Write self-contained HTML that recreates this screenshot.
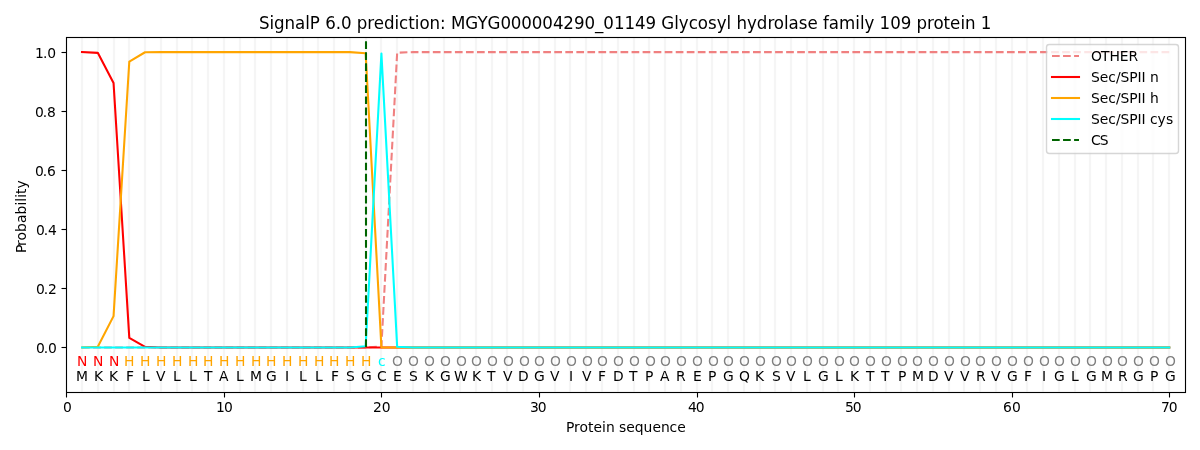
<!DOCTYPE html>
<html lang="en"><head><meta charset="utf-8"><title>SignalP 6.0 prediction</title>
<style>
html,body{margin:0;padding:0;background:#fff;}
body{width:1200px;height:450px;overflow:hidden;}
svg{display:block;}
text{font-family:"DejaVu Sans","Liberation Sans",sans-serif;font-size:13.889px;fill:#000;white-space:pre;}
.t{font-size:16.667px;}
.N{fill:#ff0000;}.H{fill:#ffa500;}.c{fill:#00ffff;}.O{fill:#808080;}
.g{stroke:#f5f5f5;stroke-width:2.2;fill:none;}
.l{stroke-width:2.083;fill:none;stroke-linejoin:round;}
.s{stroke:#000;stroke-width:1.111;fill:none;stroke-linecap:square;}
.k{stroke:#000;stroke-width:1.111;fill:none;}
</style></head><body>
<svg width="1200" height="450" viewBox="0 0 1200 450" role="img" aria-label="SignalP 6.0 prediction plot">
<rect width="1200" height="450" fill="#fff"/>
<defs><clipPath id="ax"><rect x="66.278" y="37.333" width="1118.722" height="354.389"/></clipPath></defs>
<g class="g" clip-path="url(#ax)">
<path d="M82 37.333V391.722M98 37.333V391.722M114 37.333V391.722M129 37.333V391.722M145 37.333V391.722M161 37.333V391.722M177 37.333V391.722M192 37.333V391.722M208 37.333V391.722M224 37.333V391.722M240 37.333V391.722M255 37.333V391.722M271 37.333V391.722M287 37.333V391.722M303 37.333V391.722M318 37.333V391.722M334 37.333V391.722M350 37.333V391.722M366 37.333V391.722M381 37.333V391.722M397 37.333V391.722M413 37.333V391.722M429 37.333V391.722M444 37.333V391.722M460 37.333V391.722M476 37.333V391.722M492 37.333V391.722M507 37.333V391.722M523 37.333V391.722M539 37.333V391.722M555 37.333V391.722M570 37.333V391.722M586 37.333V391.722M602 37.333V391.722M618 37.333V391.722M634 37.333V391.722M649 37.333V391.722M665 37.333V391.722M681 37.333V391.722M697 37.333V391.722M712 37.333V391.722M728 37.333V391.722M744 37.333V391.722M760 37.333V391.722M775 37.333V391.722M791 37.333V391.722M807 37.333V391.722M823 37.333V391.722M838 37.333V391.722M854 37.333V391.722M870 37.333V391.722M886 37.333V391.722M901 37.333V391.722M917 37.333V391.722M933 37.333V391.722M949 37.333V391.722M964 37.333V391.722M980 37.333V391.722M996 37.333V391.722M1012 37.333V391.722M1027 37.333V391.722M1043 37.333V391.722M1059 37.333V391.722M1075 37.333V391.722M1090 37.333V391.722M1106 37.333V391.722M1122 37.333V391.722M1138 37.333V391.722M1153 37.333V391.722M1169 37.333V391.722"/>
</g>
<g class="l" clip-path="url(#ax)">
<path d="M82.034 347.424L97.791 347.424L113.548 347.424L129.304 347.424L145.061 347.424L160.818 347.424L176.574 347.424L192.331 347.424L208.088 347.424L223.844 347.424L239.601 347.424L255.358 347.424L271.114 347.424L286.871 347.424L302.628 347.424L318.384 347.424L334.141 347.424L349.897 347.424L365.654 347.424L381.411 346.538L397.167 52.69L412.924 52.1L428.681 52.1L444.437 52.1L460.194 52.1L475.951 52.1L491.707 52.1L507.464 52.1L523.221 52.1L538.977 52.1L554.734 52.1L570.491 52.1L586.247 52.1L602.004 52.1L617.761 52.1L633.517 52.1L649.274 52.1L665.031 52.1L680.787 52.1L696.544 52.1L712.3 52.1L728.057 52.1L743.814 52.1L759.57 52.1L775.327 52.1L791.084 52.1L806.84 52.1L822.597 52.1L838.354 52.1L854.11 52.1L869.867 52.1L885.624 52.1L901.38 52.1L917.137 52.1L932.894 52.1L948.65 52.1L964.407 52.1L980.164 52.1L995.92 52.1L1011.677 52.1L1027.433 52.1L1043.19 52.1L1058.947 52.1L1074.703 52.1L1090.46 52.1L1106.217 52.1L1121.973 52.1L1137.73 52.1L1153.487 52.1L1169.243 52.1" stroke="#f08080" stroke-dasharray="7.708 3.333"/>
<path d="M82.034 52.1L97.791 52.838L113.548 82.961L129.304 337.826L145.061 346.833L160.818 347.424L176.574 347.424L192.331 347.424L208.088 347.424L223.844 347.424L239.601 347.424L255.358 347.424L271.114 347.424L286.871 347.424L302.628 347.424L318.384 347.424L334.141 347.424L349.897 347.424L365.654 347.424L381.411 347.424L397.167 347.424L412.924 347.424L428.681 347.424L444.437 347.424L460.194 347.424L475.951 347.424L491.707 347.424L507.464 347.424L523.221 347.424L538.977 347.424L554.734 347.424L570.491 347.424L586.247 347.424L602.004 347.424L617.761 347.424L633.517 347.424L649.274 347.424L665.031 347.424L680.787 347.424L696.544 347.424L712.3 347.424L728.057 347.424L743.814 347.424L759.57 347.424L775.327 347.424L791.084 347.424L806.84 347.424L822.597 347.424L838.354 347.424L854.11 347.424L869.867 347.424L885.624 347.424L901.38 347.424L917.137 347.424L932.894 347.424L948.65 347.424L964.407 347.424L980.164 347.424L995.92 347.424L1011.677 347.424L1027.433 347.424L1043.19 347.424L1058.947 347.424L1074.703 347.424L1090.46 347.424L1106.217 347.424L1121.973 347.424L1137.73 347.424L1153.487 347.424L1169.243 347.424" stroke="#ff0000" stroke-linecap="square"/>
<path d="M82.034 347.424L97.791 346.833L113.548 316.119L129.304 61.55L145.061 52.247L160.818 52.1L176.574 52.1L192.331 52.1L208.088 52.1L223.844 52.1L239.601 52.1L255.358 52.1L271.114 52.1L286.871 52.1L302.628 52.1L318.384 52.1L334.141 52.1L349.897 52.1L365.654 53.281L381.411 347.424L397.167 347.424L412.924 347.424L428.681 347.424L444.437 347.424L460.194 347.424L475.951 347.424L491.707 347.424L507.464 347.424L523.221 347.424L538.977 347.424L554.734 347.424L570.491 347.424L586.247 347.424L602.004 347.424L617.761 347.424L633.517 347.424L649.274 347.424L665.031 347.424L680.787 347.424L696.544 347.424L712.3 347.424L728.057 347.424L743.814 347.424L759.57 347.424L775.327 347.424L791.084 347.424L806.84 347.424L822.597 347.424L838.354 347.424L854.11 347.424L869.867 347.424L885.624 347.424L901.38 347.424L917.137 347.424L932.894 347.424L948.65 347.424L964.407 347.424L980.164 347.424L995.92 347.424L1011.677 347.424L1027.433 347.424L1043.19 347.424L1058.947 347.424L1074.703 347.424L1090.46 347.424L1106.217 347.424L1121.973 347.424L1137.73 347.424L1153.487 347.424L1169.243 347.424" stroke="#ffa500" stroke-linecap="square"/>
<path d="M82.034 347.424L97.791 347.424L113.548 347.424L129.304 347.424L145.061 347.424L160.818 347.424L176.574 347.424L192.331 347.424L208.088 347.424L223.844 347.424L239.601 347.424L255.358 347.424L271.114 347.424L286.871 347.424L302.628 347.424L318.384 347.424L334.141 347.424L349.897 347.424L365.654 346.242L381.411 53.576L397.167 346.833L412.924 347.424L428.681 347.424L444.437 347.424L460.194 347.424L475.951 347.424L491.707 347.424L507.464 347.424L523.221 347.424L538.977 347.424L554.734 347.424L570.491 347.424L586.247 347.424L602.004 347.424L617.761 347.424L633.517 347.424L649.274 347.424L665.031 347.424L680.787 347.424L696.544 347.424L712.3 347.424L728.057 347.424L743.814 347.424L759.57 347.424L775.327 347.424L791.084 347.424L806.84 347.424L822.597 347.424L838.354 347.424L854.11 347.424L869.867 347.424L885.624 347.424L901.38 347.424L917.137 347.424L932.894 347.424L948.65 347.424L964.407 347.424L980.164 347.424L995.92 347.424L1011.677 347.424L1027.433 347.424L1043.19 347.424L1058.947 347.424L1074.703 347.424L1090.46 347.424L1106.217 347.424L1121.973 347.424L1137.73 347.424L1153.487 347.424L1169.243 347.424" stroke="#00ffff" stroke-linecap="square"/>
<path d="M366 347V-22" stroke="#006400" stroke-dasharray="7.708 3.333"/>
</g>
<g class="k">
<path d="M66.5 392.5v5"/>
<path d="M224.5 392.5v5"/>
<path d="M381.5 392.5v5"/>
<path d="M539.5 392.5v5"/>
<path d="M697.5 392.5v5"/>
<path d="M854.5 392.5v5"/>
<path d="M1012.5 392.5v5"/>
<path d="M1169.5 392.5v5"/>
<path d="M61.5 347.5h5"/>
<path d="M61.5 288.5h5"/>
<path d="M61.5 229.5h5"/>
<path d="M61.5 170.5h5"/>
<path d="M61.5 111.5h5"/>
<path d="M61.5 52.5h5"/>
</g>
<rect class="s" x="66.5" y="37.5" width="1119" height="355"/>
<text x="63" y="412">0</text>
<text x="216 223.88" y="412">10</text>
<text x="373 381.75" y="412">20</text>
<text x="530 537.75" y="412">30</text>
<text x="688 695.75" y="412">40</text>
<text x="845 852.75" y="412">50</text>
<text x="1003 1011.88" y="412">60</text>
<text x="1161 1168.75" y="412">70</text>
<text x="566 574.12 579.62 588.12 593.62 602.12 606 614.75 619.12 626.25 634.75 643.62 652.38 660.88 669.62 677.25" y="432">Protein sequence</text>
<text x="36 43.75 48.12" y="353">0.0</text>
<text x="36 43.75 48.12" y="294">0.2</text>
<text x="36 43.75 48.12" y="235">0.4</text>
<text x="35 42.75 47.12" y="176">0.6</text>
<text x="35 42.75 47.12" y="117">0.8</text>
<text x="35 42.88 47.25" y="58">1.0</text>
<text transform="translate(26 252) rotate(-90)" x="-1 6.12 11.62 20.12 29 37.62 46.5 50.38 54.25 58.12 63.62" y="0">Probability</text>
<text class="N" x="77" y="366">N</text>
<text x="76" y="381">M</text>
<text class="N" x="93" y="366">N</text>
<text x="94" y="381">K</text>
<text class="N" x="109" y="366">N</text>
<text x="109" y="381">K</text>
<text class="H" x="124" y="366">H</text>
<text x="126" y="381">F</text>
<text class="H" x="140" y="366">H</text>
<text x="142" y="381">L</text>
<text class="H" x="156" y="366">H</text>
<text x="156" y="381">V</text>
<text class="H" x="172" y="366">H</text>
<text x="173" y="381">L</text>
<text class="H" x="188" y="366">H</text>
<text x="189" y="381">L</text>
<text class="H" x="203" y="366">H</text>
<text x="204" y="381">T</text>
<text class="H" x="219" y="366">H</text>
<text x="219" y="381">A</text>
<text class="H" x="235" y="366">H</text>
<text x="236" y="381">L</text>
<text class="H" x="251" y="366">H</text>
<text x="250" y="381">M</text>
<text class="H" x="266" y="366">H</text>
<text x="266" y="381">G</text>
<text class="H" x="282" y="366">H</text>
<text x="285" y="381">I</text>
<text class="H" x="298" y="366">H</text>
<text x="299" y="381">L</text>
<text class="H" x="314" y="366">H</text>
<text x="315" y="381">L</text>
<text class="H" x="329" y="366">H</text>
<text x="331" y="381">F</text>
<text class="H" x="345" y="366">H</text>
<text x="346" y="381">S</text>
<text class="H" x="361" y="366">H</text>
<text x="361" y="381">G</text>
<text class="c" x="378" y="366">c</text>
<text x="377" y="381">C</text>
<text class="O" x="392" y="366">O</text>
<text x="393" y="381">E</text>
<text class="O" x="408" y="366">O</text>
<text x="409" y="381">S</text>
<text class="O" x="424" y="366">O</text>
<text x="425" y="381">K</text>
<text class="O" x="440" y="366">O</text>
<text x="440" y="381">G</text>
<text class="O" x="456" y="366">O</text>
<text x="454" y="381">W</text>
<text class="O" x="471" y="366">O</text>
<text x="472" y="381">K</text>
<text class="O" x="487" y="366">O</text>
<text x="487" y="381">T</text>
<text class="O" x="503" y="366">O</text>
<text x="503" y="381">V</text>
<text class="O" x="519" y="366">O</text>
<text x="518" y="381">D</text>
<text class="O" x="534" y="366">O</text>
<text x="534" y="381">G</text>
<text class="O" x="550" y="366">O</text>
<text x="550" y="381">V</text>
<text class="O" x="566" y="366">O</text>
<text x="569" y="381">I</text>
<text class="O" x="582" y="366">O</text>
<text x="582" y="381">V</text>
<text class="O" x="597" y="366">O</text>
<text x="598" y="381">F</text>
<text class="O" x="613" y="366">O</text>
<text x="613" y="381">D</text>
<text class="O" x="629" y="366">O</text>
<text x="629" y="381">T</text>
<text class="O" x="645" y="366">O</text>
<text x="645" y="381">P</text>
<text class="O" x="660" y="366">O</text>
<text x="660" y="381">A</text>
<text class="O" x="676" y="366">O</text>
<text x="676" y="381">R</text>
<text class="O" x="692" y="366">O</text>
<text x="693" y="381">E</text>
<text class="O" x="708" y="366">O</text>
<text x="708" y="381">P</text>
<text class="O" x="723" y="366">O</text>
<text x="723" y="381">G</text>
<text class="O" x="739" y="366">O</text>
<text x="739" y="381">Q</text>
<text class="O" x="755" y="366">O</text>
<text x="755" y="381">K</text>
<text class="O" x="771" y="366">O</text>
<text x="772" y="381">S</text>
<text class="O" x="786" y="366">O</text>
<text x="786" y="381">V</text>
<text class="O" x="802" y="366">O</text>
<text x="803" y="381">L</text>
<text class="O" x="818" y="366">O</text>
<text x="818" y="381">G</text>
<text class="O" x="834" y="366">O</text>
<text x="835" y="381">L</text>
<text class="O" x="849" y="366">O</text>
<text x="850" y="381">K</text>
<text class="O" x="865" y="366">O</text>
<text x="866" y="381">T</text>
<text class="O" x="881" y="366">O</text>
<text x="881" y="381">T</text>
<text class="O" x="897" y="366">O</text>
<text x="898" y="381">P</text>
<text class="O" x="912" y="366">O</text>
<text x="912" y="381">M</text>
<text class="O" x="928" y="366">O</text>
<text x="928" y="381">D</text>
<text class="O" x="944" y="366">O</text>
<text x="944" y="381">V</text>
<text class="O" x="960" y="366">O</text>
<text x="960" y="381">V</text>
<text class="O" x="975" y="366">O</text>
<text x="976" y="381">R</text>
<text class="O" x="991" y="366">O</text>
<text x="991" y="381">V</text>
<text class="O" x="1007" y="366">O</text>
<text x="1007" y="381">G</text>
<text class="O" x="1023" y="366">O</text>
<text x="1024" y="381">F</text>
<text class="O" x="1039" y="366">O</text>
<text x="1042" y="381">I</text>
<text class="O" x="1054" y="366">O</text>
<text x="1054" y="381">G</text>
<text class="O" x="1070" y="366">O</text>
<text x="1071" y="381">L</text>
<text class="O" x="1086" y="366">O</text>
<text x="1086" y="381">G</text>
<text class="O" x="1102" y="366">O</text>
<text x="1101" y="381">M</text>
<text class="O" x="1117" y="366">O</text>
<text x="1118" y="381">R</text>
<text class="O" x="1133" y="366">O</text>
<text x="1133" y="381">G</text>
<text class="O" x="1149" y="366">O</text>
<text x="1150" y="381">P</text>
<text class="O" x="1165" y="366">O</text>
<text x="1165" y="381">G</text>
<text class="t" transform="translate(0 29) scale(1 1.06) translate(0 -29)" x="259 269.5 274.12 284.62 295.12 305.25 309.88 320 325.25 335.75 341 351.5 356.75 367.25 373.75 384 394.5 399.12 408.25 414.75 419.38 429.5 440 445.75 451 465.38 477.38 487.5 500.38 510.88 521.38 531.88 542.38 552.88 563.38 574 584.5 595 603.38 613.88 624.5 635.12 645.62 656.12 661.38 674.25 678.88 688.75 697.88 708 716.75 726.62 731.25 736.5 747 756.88 767.38 773.88 784 788.62 798.75 807.5 817.75 823 828.88 839 855.25 859.88 864.5 874.38 879.62 890.25 900.75 911.25 916.5 927 933.5 943.62 950.12 960.38 965 975.5 980.75" y="29">SignalP 6.0 prediction: MGYG000004290_01149 Glycosyl hydrolase family 109 protein 1</text>
<rect x="1046.5" y="44.5" width="132" height="109" rx="2.778" ry="2.778" fill="#fff" stroke="#ccc" stroke-width="1.389" opacity="0.8"/>
<path class="l" d="M1052 56H1079" stroke="#f08080" stroke-dasharray="7.708 3.333"/>
<path class="l" d="M1052 77H1079" stroke="#ff0000" stroke-linecap="square"/>
<path class="l" d="M1052 98H1079" stroke="#ffa500" stroke-linecap="square"/>
<path class="l" d="M1052 119H1079" stroke="#00ffff" stroke-linecap="square"/>
<path class="l" d="M1052 140H1079" stroke="#006400" stroke-dasharray="7.708 3.333"/>
<text x="1091 1100.88 1109.38 1119.75 1128.5" y="61">OTHER</text>
<text x="1091 1099.75 1108.25 1115.88 1120.5 1129.25 1137.62 1141.62 1145.62 1150" y="82">Sec/SPII n</text>
<text x="1091 1099.75 1108.25 1115.88 1120.5 1129.25 1137.62 1141.62 1145.62 1150" y="103">Sec/SPII h</text>
<text x="1091 1099.75 1108.25 1115.88 1120.5 1129.25 1137.62 1141.62 1145.62 1150 1157.62 1165.88" y="124">Sec/SPII cys</text>
<text x="1091 1099.75" y="145">CS</text>
</svg>
</body></html>
